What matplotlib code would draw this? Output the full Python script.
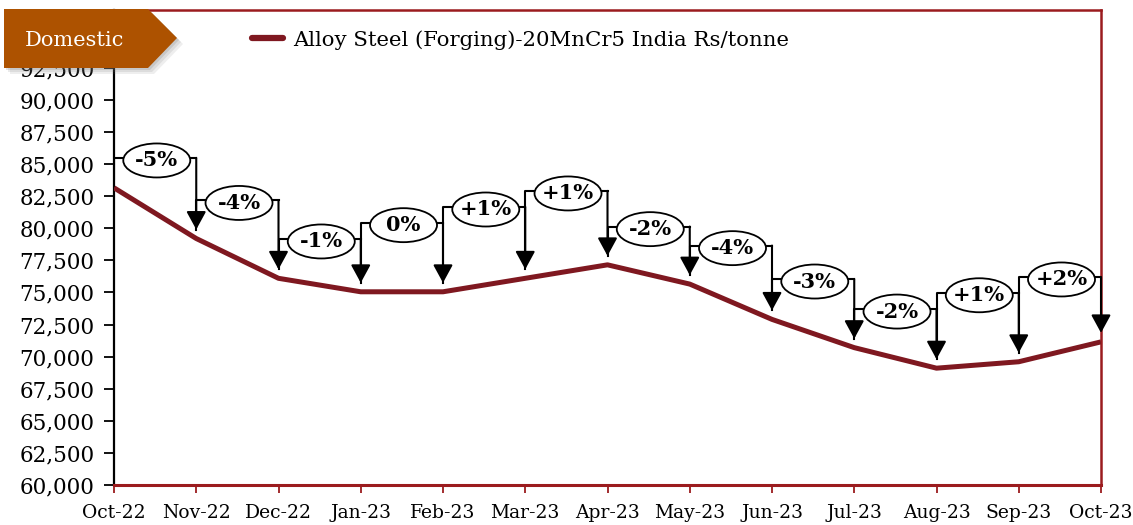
import matplotlib.pyplot as plt
from matplotlib.patches import Polygon, Ellipse
from matplotlib.lines import Line2D
from matplotlib.transforms import ScaledTranslation

# Monthly prices (Rs/tonne)
months = ["Oct-22", "Nov-22", "Dec-22", "Jan-23", "Feb-23", "Mar-23", "Apr-23",
          "May-23", "Jun-23", "Jul-23", "Aug-23", "Sep-23", "Oct-23"]
prices = [83150, 79200, 76100, 75050, 75050, 76100, 77150,
          75650, 72900, 70700, 69100, 69600, 71150]

# Month-on-month change labels and the height of each bracket
changes = ["-5%", "-4%", "-1%", "0%", "+1%", "+1%", "-2%",
           "-4%", "-3%", "-2%", "+1%", "+2%"]
bracket_levels = [85480, 82170, 79170, 80440, 81660, 82910, 80130,
                  78650, 76050, 73710, 74980, 76210]

yticks = list(range(60000, 92501, 2500))

line_color = "#7f1820"
border_color = "#9b1b1e"
banner_color = "#ad5200"

plt.rcParams["font.family"] = ["DejaVu Serif"]

fig = plt.figure(figsize=(11.33, 5.25), dpi=100)
ax = fig.add_axes([114 / 1133, 40 / 525, (1101 - 114) / 1133, 475 / 525])

x = list(range(len(months)))
ax.plot(x, prices, color=line_color, lw=3.6, solid_capstyle="butt", zorder=3)

# brackets with change labels
gap = 700
for i, (lab, lvl) in enumerate(zip(changes, bracket_levels)):
    x0, x1 = i, i + 1
    ax.plot([x0, x0, x1], [prices[x0] + gap, lvl, lvl], color="black", lw=1.5, zorder=4)
    ax.annotate("", xy=(x1, prices[x1] + gap), xytext=(x1, lvl),
                arrowprops=dict(arrowstyle="-|>,head_length=0.55,head_width=0.3",
                                mutation_scale=20, lw=1.5, color="black",
                                shrinkA=0, shrinkB=0),
                zorder=4)
    xc, yc = (x0 + x1) / 2 + 0.02, lvl - 200
    tr = fig.dpi_scale_trans + ScaledTranslation(xc, yc, ax.transData)
    ax.add_patch(Ellipse((0, 0), 0.67, 0.34, transform=tr, fc="white", ec="black",
                         lw=1.3, zorder=5))
    ax.text(xc, yc, lab, ha="center", va="center", fontsize=15, fontweight="bold",
            zorder=6)

ax.set_xlim(0, 12)
ax.set_ylim(60000, 97000)
ax.set_xticks(x)
ax.set_xticklabels(months, fontsize=13.5)
ax.set_yticks(yticks)
ax.set_yticklabels([f"{v:,}" for v in yticks], fontsize=15.5)
ax.tick_params(axis="y", direction="out", length=7, width=1.3, color="black", pad=7)
ax.tick_params(axis="x", direction="out", length=6, width=1.3, color=border_color, pad=8)

for side in ["top", "right", "bottom"]:
    ax.spines[side].set_color(border_color)
    ax.spines[side].set_linewidth(1.8)
ax.spines["bottom"].set_linewidth(2.2)
ax.spines["left"].set_color("black")
ax.spines["left"].set_linewidth(1.6)
for s in ax.spines.values():
    s.set_zorder(2)

# legend
handle = Line2D([0], [0], color=line_color, lw=4.5, solid_capstyle="round")
fig.legend([handle], ["Alloy Steel (Forging)-20MnCr5 India Rs/tonne"],
           loc="center left", bbox_to_anchor=(233 / 1133, 1 - 40 / 525),
           frameon=False, fontsize=15.3, handlelength=1.45, handletextpad=0.5)

# "Domestic" banner with a soft shadow
W, H = 1133, 525
pts = [(4, 9), (148, 9), (177, 38), (148, 68), (4, 68)]
for k, a in [(6, 0.12), (4, 0.15), (2, 0.2)]:
    shadow = Polygon([((px + k) / W, 1 - (py + k) / H) for px, py in pts],
                     closed=True, transform=fig.transFigure, fc="#777777", ec="none",
                     alpha=a, zorder=9)
    fig.patches.append(shadow)
banner = Polygon([(px / W, 1 - py / H) for px, py in pts],
                 closed=True, transform=fig.transFigure, fc=banner_color, ec="none",
                 zorder=10)
fig.patches.append(banner)
fig.text(74 / W, 1 - 40 / H, "Domestic", color="white", fontsize=15,
         ha="center", va="center", zorder=11)

fig.savefig("out.png", dpi=100)
